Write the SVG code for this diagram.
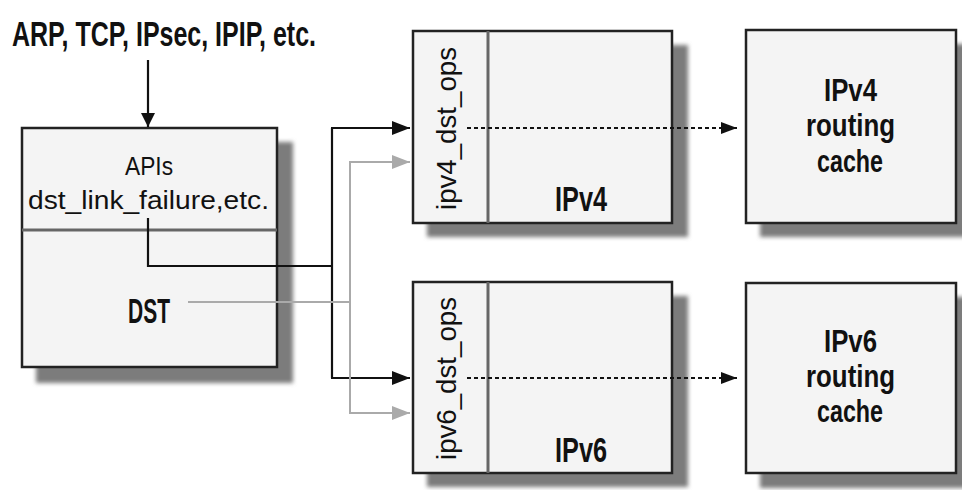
<svg xmlns="http://www.w3.org/2000/svg" width="962" height="490" viewBox="0 0 962 490">
<defs>
<filter id="blur" x="-10%" y="-10%" width="120%" height="120%"><feGaussianBlur stdDeviation="2"/></filter>
<marker id="ab" viewBox="0 0 18 14" markerWidth="18" markerHeight="14" refX="18" refY="7" orient="auto" markerUnits="userSpaceOnUse"><path d="M0,0 L18,7 L0,14 z" fill="#111"/></marker>
<marker id="ag" viewBox="0 0 18 14" markerWidth="18" markerHeight="14" refX="18" refY="7" orient="auto" markerUnits="userSpaceOnUse"><path d="M0,0 L18,7 L0,14 z" fill="#aaa"/></marker>
<marker id="ad" viewBox="0 0 16 12" markerWidth="16" markerHeight="12" refX="16" refY="6" orient="auto" markerUnits="userSpaceOnUse"><path d="M0,0 L16,6 L0,12 z" fill="#111"/></marker>
<marker id="av" viewBox="0 0 14 14" markerWidth="14" markerHeight="14" refX="14" refY="7" orient="auto" markerUnits="userSpaceOnUse"><path d="M0,0 L14,7 L0,14 z" fill="#111"/></marker>
</defs>
<style>
.sh{fill:#7c7c7c;filter:url(#blur)}
.box{fill:#f4f4f4;stroke:#222;stroke-width:2.5}
.div{stroke:#666;stroke-width:3;fill:none}
.t{font-family:"Liberation Sans",Arial,sans-serif;fill:#111}
.b{font-weight:bold;font-size:35px}
.c{font-weight:bold;font-size:31px}
.r{font-size:26px}
.v{font-size:28px}
.blk{stroke:#111;stroke-width:2.2;fill:none}
.gry{stroke:#aaa;stroke-width:2;fill:none}
.dsh{stroke:#111;stroke-width:2.2;fill:none;stroke-dasharray:4 3}
</style>
<rect width="962" height="490" fill="#fff"/>

<g id="protocols">
<text class="t b" x="12" y="46" textLength="304" lengthAdjust="spacingAndGlyphs">ARP, TCP, IPsec, IPIP, etc.</text>
</g>

<g id="dst">
<rect class="sh" x="36" y="142" width="257" height="241"/>
<rect class="box" x="22" y="128" width="255" height="239"/>
<line class="div" x1="22" y1="230" x2="277" y2="230"/>
<text class="t r" x="125" y="175" textLength="48" lengthAdjust="spacingAndGlyphs">APIs</text>
<text class="t r" x="28" y="209" textLength="241" lengthAdjust="spacingAndGlyphs">dst_link_failure,etc.</text>
<text class="t b" x="128" y="323" textLength="42" lengthAdjust="spacingAndGlyphs">DST</text>
</g>

<g id="ipv4">
<rect class="sh" x="427" y="45" width="261" height="192"/>
<rect class="box" x="413" y="31" width="259" height="192"/>
<line class="div" x1="488" y1="31" x2="488" y2="223"/>
<text class="t v" transform="translate(456,210) rotate(-90)" x="0" y="0" textLength="163" lengthAdjust="spacingAndGlyphs">ipv4_dst_ops</text>
<text class="t b" x="555" y="211" textLength="52" lengthAdjust="spacingAndGlyphs">IPv4</text>
</g>

<g id="ipv6">
<rect class="sh" x="427" y="296" width="261" height="191"/>
<rect class="box" x="413" y="282" width="259" height="191"/>
<line class="div" x1="488" y1="282" x2="488" y2="473"/>
<text class="t v" transform="translate(456,460) rotate(-90)" x="0" y="0" textLength="163" lengthAdjust="spacingAndGlyphs">ipv6_dst_ops</text>
<text class="t b" x="555" y="462" textLength="52" lengthAdjust="spacingAndGlyphs">IPv6</text>
</g>

<g id="ipv4cache">
<rect class="sh" x="760" y="44" width="212" height="193"/>
<rect class="box" x="746" y="30" width="210" height="193"/>
<text class="t c" x="824" y="101" textLength="53" lengthAdjust="spacingAndGlyphs">IPv4</text>
<text class="t c" x="806" y="136" textLength="89" lengthAdjust="spacingAndGlyphs">routing</text>
<text class="t c" x="817" y="172" textLength="66" lengthAdjust="spacingAndGlyphs">cache</text>
</g>

<g id="ipv6cache">
<rect class="sh" x="760" y="297" width="212" height="191"/>
<rect class="box" x="746" y="283" width="210" height="190"/>
<text class="t c" x="824" y="352" textLength="53" lengthAdjust="spacingAndGlyphs">IPv6</text>
<text class="t c" x="806" y="387" textLength="89" lengthAdjust="spacingAndGlyphs">routing</text>
<text class="t c" x="817" y="422" textLength="66" lengthAdjust="spacingAndGlyphs">cache</text>
</g>

<g id="connectors">
<line class="blk" x1="148" y1="60" x2="148" y2="127" marker-end="url(#av)"/>
<polyline class="blk" points="148,218 148,266 332,266"/>
<polyline class="blk" points="332,128 332,378"/>
<path class="blk" d="M331,128 L410,128" marker-end="url(#ab)"/>
<path class="blk" d="M331,378 L410,378" marker-end="url(#ab)"/>
<polyline class="gry" points="188,302 350,302"/>
<polyline class="gry" points="350,162 350,413"/>
<path class="gry" d="M349,162 L410,162" marker-end="url(#ag)"/>
<path class="gry" d="M349,413 L410,413" marker-end="url(#ag)"/>
<path class="dsh" d="M467,128 L737,128" marker-end="url(#ad)"/>
<path class="dsh" d="M467,378 L737,378" marker-end="url(#ad)"/>
</g>
</svg>
